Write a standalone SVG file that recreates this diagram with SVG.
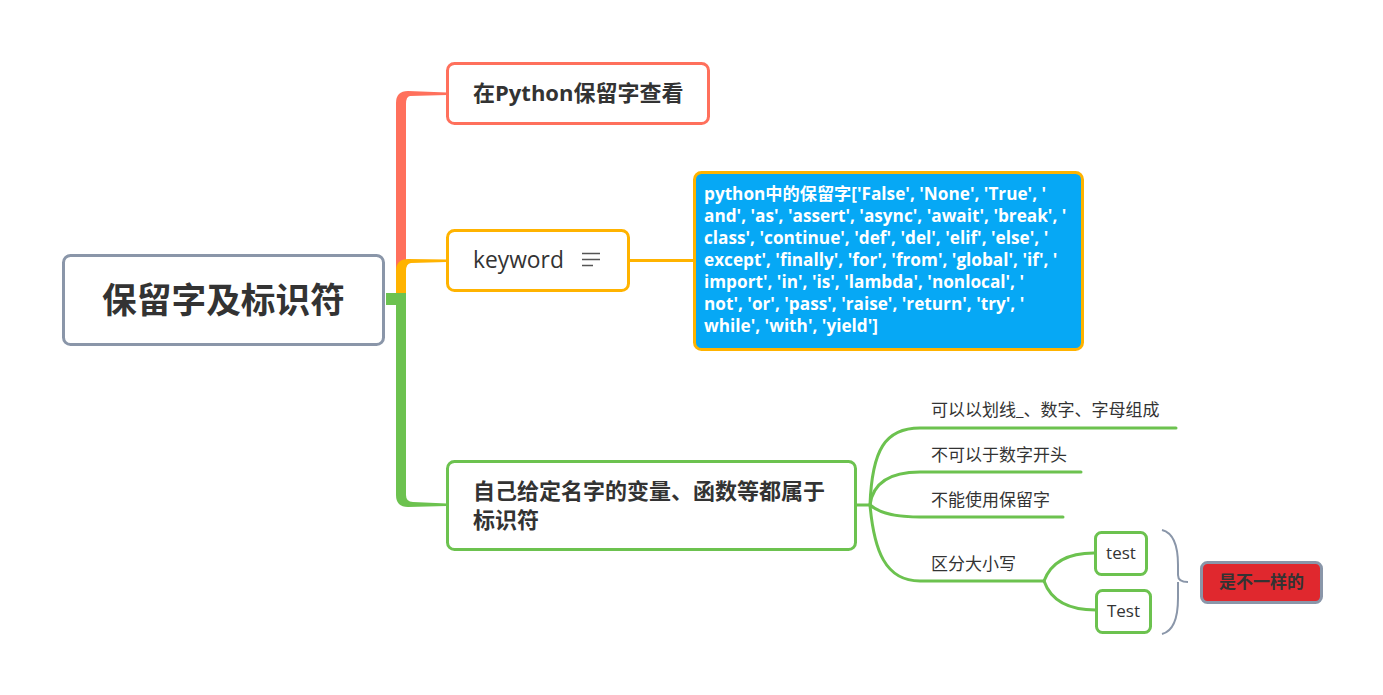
<svg xmlns="http://www.w3.org/2000/svg" width="1383" height="695" viewBox="0 0 1383 695">
<style>
text{font-family:"Open Sans","Noto Sans CJK SC",sans-serif;fill:#333}
.b{font-weight:bold}
.box{fill:#fff;stroke-width:3}
.gl{fill:none;stroke:#6CC24F;stroke-width:3;stroke-linecap:round}
.note{fill:#fff;font-weight:bold;font-size:17.2px}
.sub{font-size:17px}
</style>
<rect width="1383" height="695" fill="#fff"/>
<g id="connectors">
<path d="M396,300 L396,103 Q396,91 408,91 L447,92.5 L447,95 L410,96 Q406,96.5 406,104 L406,300 Z" fill="#FF705C"/>
<path d="M396,296 L396,271 Q396,259 408,259 L447,259.5 L447,262 L411,263 Q406,263.5 406,271 L406,296 Z" fill="#FFB300"/>
<path d="M386,293 L406,293 L406,495 Q406,502 413,502 L447,503.5 L447,506 L408,507 Q396,507 396,495 L396,305 L386,305 Z" fill="#6CC24F"/>
<line x1="629" y1="260.5" x2="694" y2="260.5" stroke="#FFB300" stroke-width="3"/>
<path class="gl" d="M856,505 L870,505"/>
<path class="gl" d="M870,505 C872,450 885,428 920,428 L1176,428"/>
<path class="gl" d="M870,505 C873,482 890,472 920,472 L1081,472"/>
<path class="gl" d="M870,505 C878,512 895,517 920,517 L1063,517"/>
<path class="gl" d="M870,505 C874,550 885,581 920,581 L1044,581"/>
<path class="gl" d="M1044,581 C1050,565 1065,553 1094,553"/>
<path class="gl" d="M1044,581 C1050,598 1065,610 1096,610"/>
<path d="M1162,530 Q1178,534 1178,565 L1178,575 Q1178,582 1188,582 M1178,582 L1178,598 Q1178,630 1162,634" fill="none" stroke="#8A96A9" stroke-width="2"/>
</g>
<g id="root">
<rect class="box" x="63.5" y="255.5" width="320" height="89" rx="7" stroke="#8A96A9"/>
<text class="b" x="223.5" y="313" font-size="34.7" text-anchor="middle">保留字及标识符</text>
</g>
<g id="n1">
<rect class="box" x="447.5" y="63.5" width="261" height="60" rx="7" stroke="#FF705C"/>
<text class="b" x="473" y="101" font-size="22">在Python保留字查看</text>
</g>
<g id="n2">
<rect class="box" x="447.5" y="230.5" width="181" height="60" rx="7" stroke="#FFB300"/>
<text x="473" y="268" font-size="22.8">keyword</text>
<path d="M582,253.5 H600 M582,259.5 H600 M582,265.5 H593" stroke="#555" stroke-width="1.6"/>
</g>
<g id="note">
<rect x="694.5" y="172.5" width="388" height="177" rx="7" fill="#06A8F5" stroke="#FFB300" stroke-width="3"/>
<text class="note" x="704" y="200">python中的保留字['False', 'None', 'True', '</text>
<text class="note" x="704" y="222">and', 'as', 'assert', 'async', 'await', 'break', '</text>
<text class="note" x="704" y="244">class', 'continue', 'def', 'del', 'elif', 'else', '</text>
<text class="note" x="704" y="266">except', 'finally', 'for', 'from', 'global', 'if', '</text>
<text class="note" x="704" y="288">import', 'in', 'is', 'lambda', 'nonlocal', '</text>
<text class="note" x="704" y="310">not', 'or', 'pass', 'raise', 'return', 'try', '</text>
<text class="note" x="704" y="332">while', 'with', 'yield']</text>
</g>
<g id="n3">
<rect class="box" x="447.5" y="461.5" width="408" height="88" rx="7" stroke="#6CC24F"/>
<text class="b" x="473" y="499" font-size="22">自己给定名字的变量、函数等都属于</text>
<text class="b" x="473" y="528" font-size="22">标识符</text>
</g>
<g id="b1"><text class="sub" x="931" y="416">可以以划线_、数字、字母组成</text></g>
<g id="b2"><text class="sub" x="931" y="461">不可以于数字开头</text></g>
<g id="b3"><text class="sub" x="931" y="506">不能使用保留字</text></g>
<g id="b4"><text class="sub" x="931" y="570">区分大小写</text></g>
<g id="t1">
<rect class="box" x="1095.5" y="532.5" width="51" height="42" rx="6" stroke="#6CC24F"/>
<text class="sub" x="1121" y="559" text-anchor="middle">test</text>
</g>
<g id="t2">
<rect class="box" x="1096.5" y="590.5" width="54" height="42" rx="6" stroke="#6CC24F"/>
<text class="sub" x="1123.5" y="617" text-anchor="middle">Test</text>
</g>
<g id="summary">
<rect x="1201.5" y="562.5" width="120" height="40" rx="6" fill="#E0282E" stroke="#8A96A9" stroke-width="3"/>
<text class="b" x="1261.5" y="588" font-size="17" text-anchor="middle">是不一样的</text>
</g>
</svg>
